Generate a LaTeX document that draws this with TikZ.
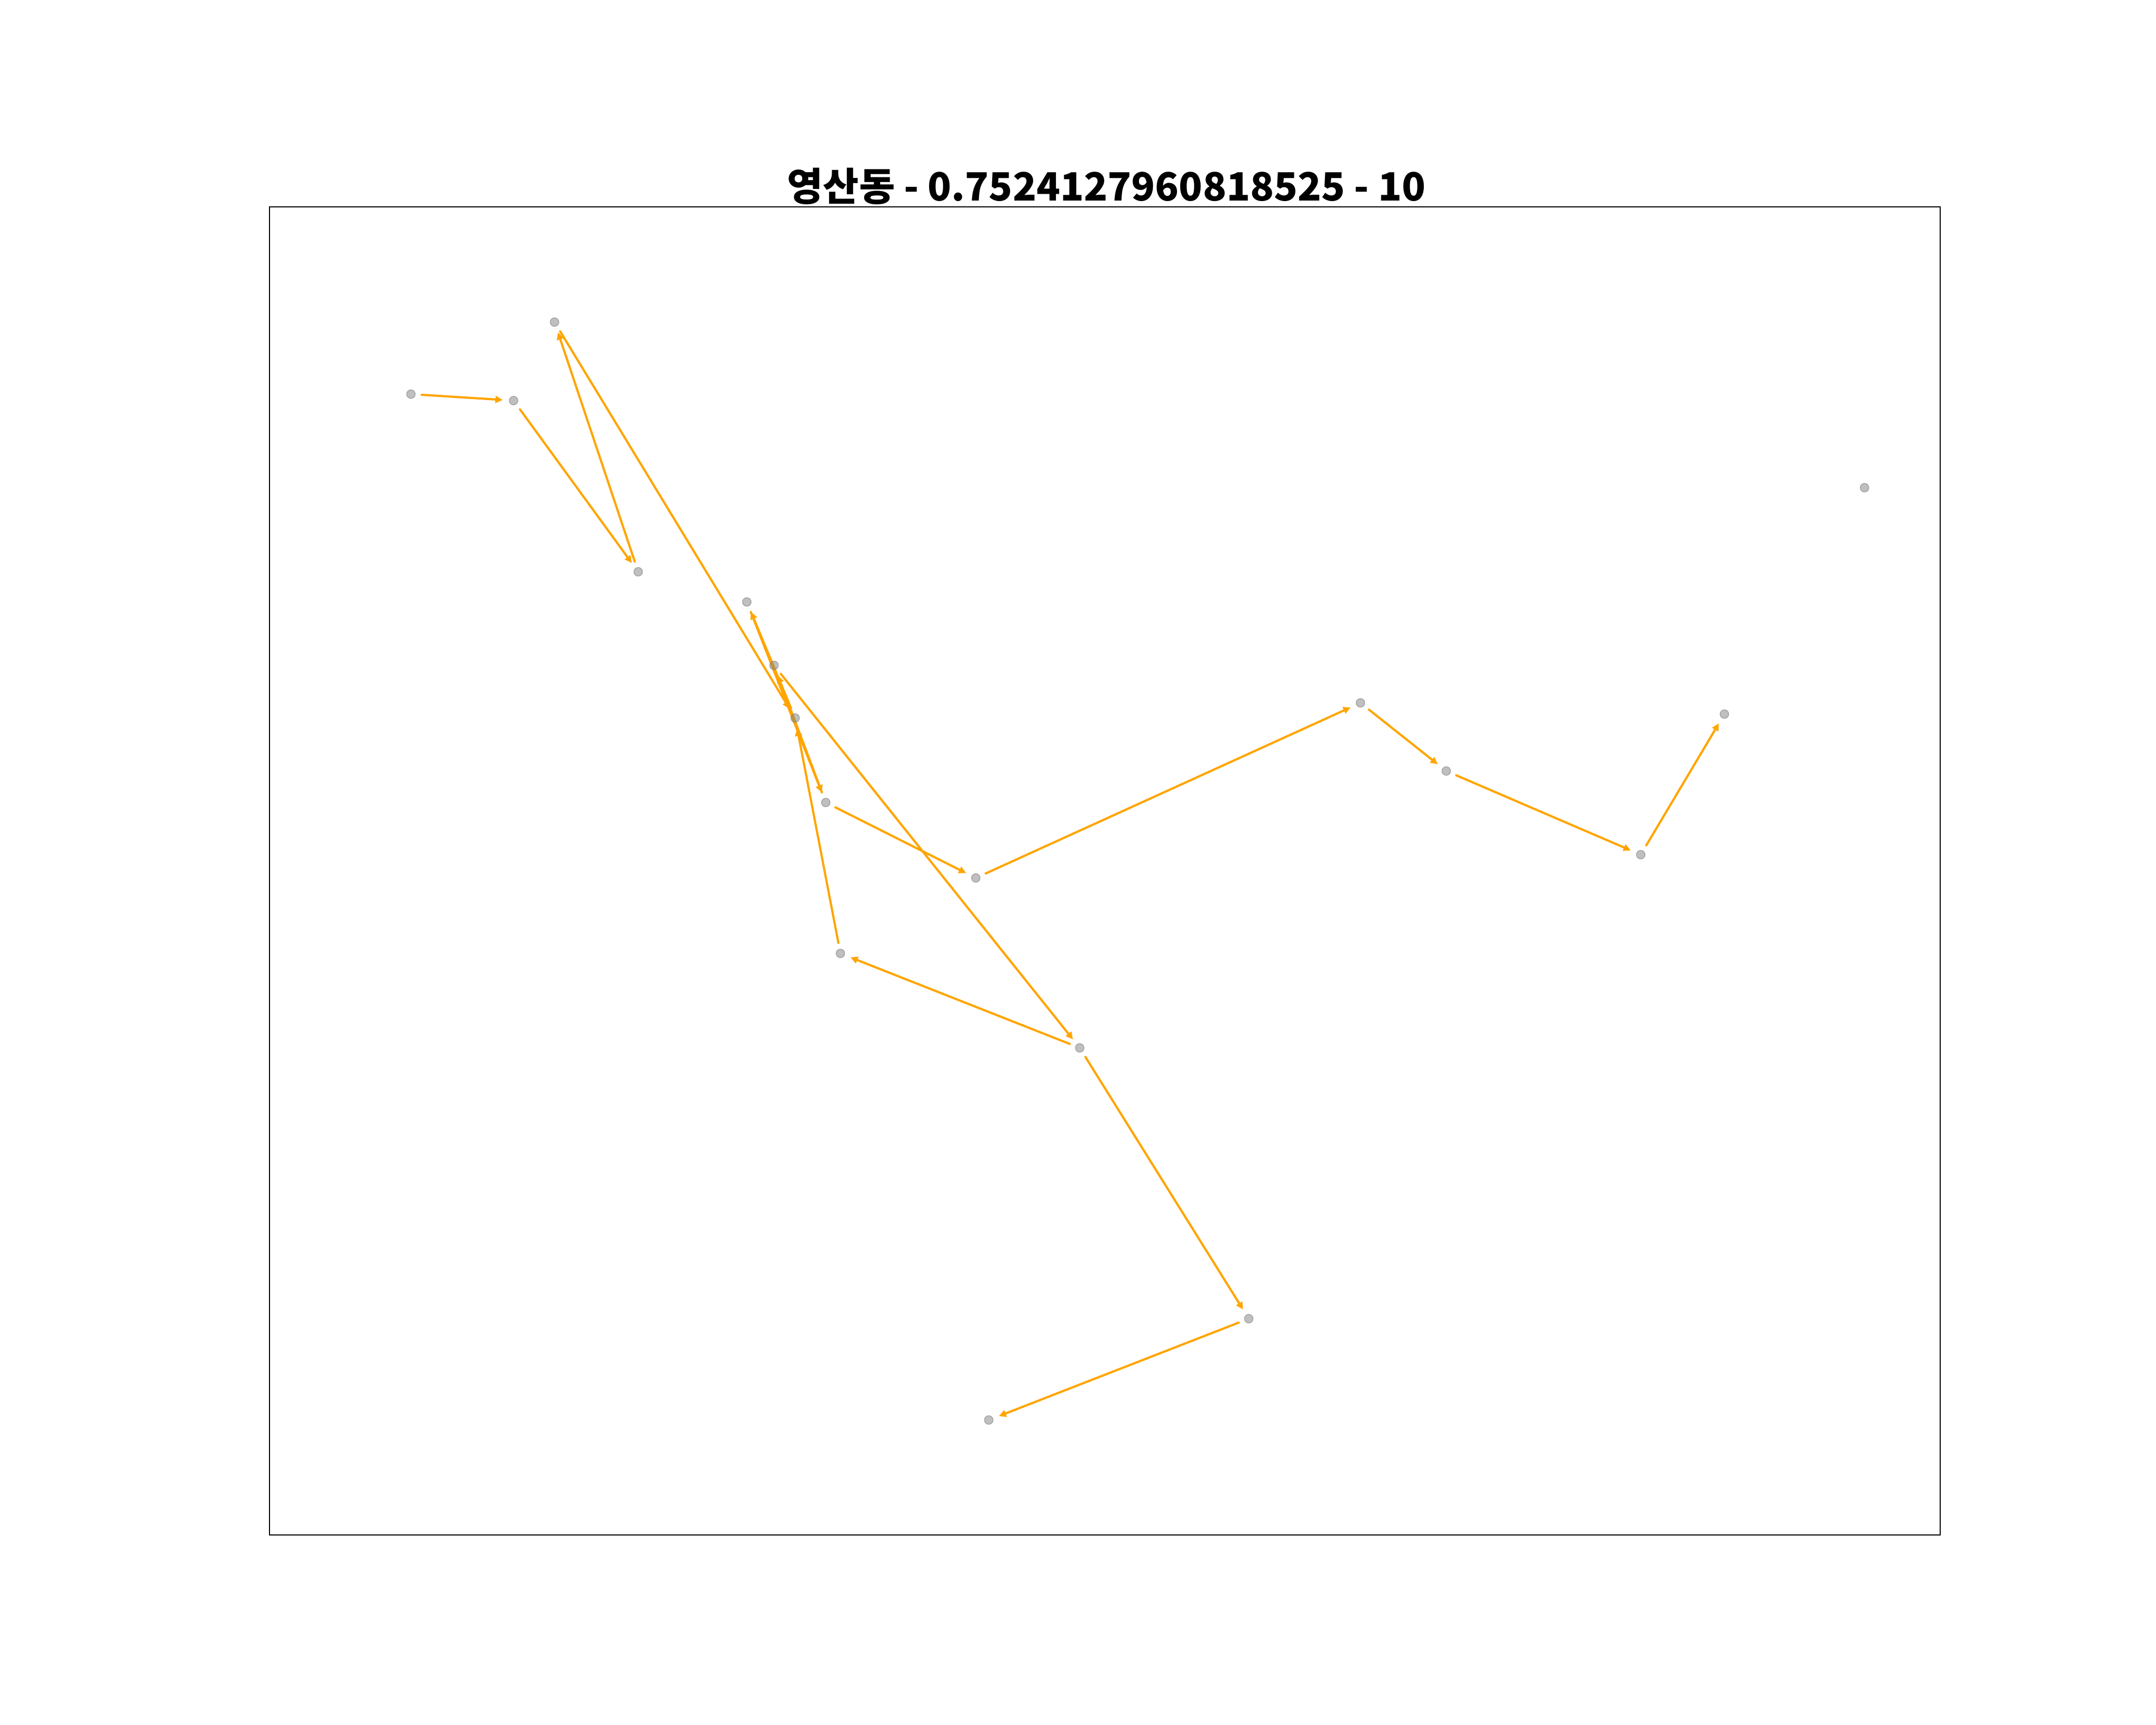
\documentclass[tikz,border=0pt]{standalone}
\usepackage{fontspec}
\usepackage{graphicx}
\usepackage{xcolor}
\usepackage{tikz}
\usetikzlibrary{arrows.meta, backgrounds}
\newfontfamily\cjk{Noto Sans CJK KR}
\definecolor{tripOrange}{HTML}{FFA500}
\definecolor{stopGrey}{HTML}{808080}

\tikzset{
  stopdot/.style={circle, inner sep=0pt, minimum size=0.2cm, outer sep=0.15cm,
    fill=stopGrey, fill opacity=0.5, draw=stopGrey, draw opacity=0.6, line width=0.5pt},
  tripArrow/.style={-{Triangle[length=1.7mm, width=1.6mm]}, tripOrange,
    line width=1.45pt, line cap=round},
}

\begin{document}
\begin{tikzpicture}
        \useasboundingbox (0,0) rectangle (50,40);
        % ── title ──
        \node[inner sep=0pt, anchor=north] (title) at (25.66, 36.11)
          {\resizebox*{14.8cm}{0.85cm}{\cjk\bfseries 영산동 - 0.7524127960818525 - 10}};
        % ── axes frame ──
        \draw[black, line width=0.7pt] (6.25, 4.40) rectangle (45.00, 35.20);
        % ── stops ──
        \foreach \n/\x/\y in {s1/9.53/30.86, s2/11.91/30.71, s3/12.86/32.53, s4/14.80/26.74,
                              s5/17.32/26.04, s6/17.95/24.57, s7/18.44/23.35, s8/19.15/21.39,
                              s9/22.63/19.64, s10/19.49/17.89, s11/25.04/15.70, s12/28.96/9.42,
                              s13/22.93/7.07, s14/31.55/23.70, s15/33.54/22.12, s16/38.05/20.18,
                              s17/39.99/23.44, s18/43.24/28.69} {
          \node[stopdot] (\n) at (\x, \y) {};
        }
        % ── trips (under the stops) ──
        \begin{pgfonlayer}{background}
          \foreach \a/\b in {s1/s2, s2/s4, s4/s3, s3/s7, s7/s5, s5/s8, s8/s6, s6/s11,
                             s11/s10, s10/s7, s8/s9, s9/s14, s14/s15, s15/s16, s16/s17,
                             s11/s12, s12/s13} {
            \draw[tripArrow] (\a) -- (\b);
          }
        \end{pgfonlayer}
      \end{tikzpicture}
\end{document}
